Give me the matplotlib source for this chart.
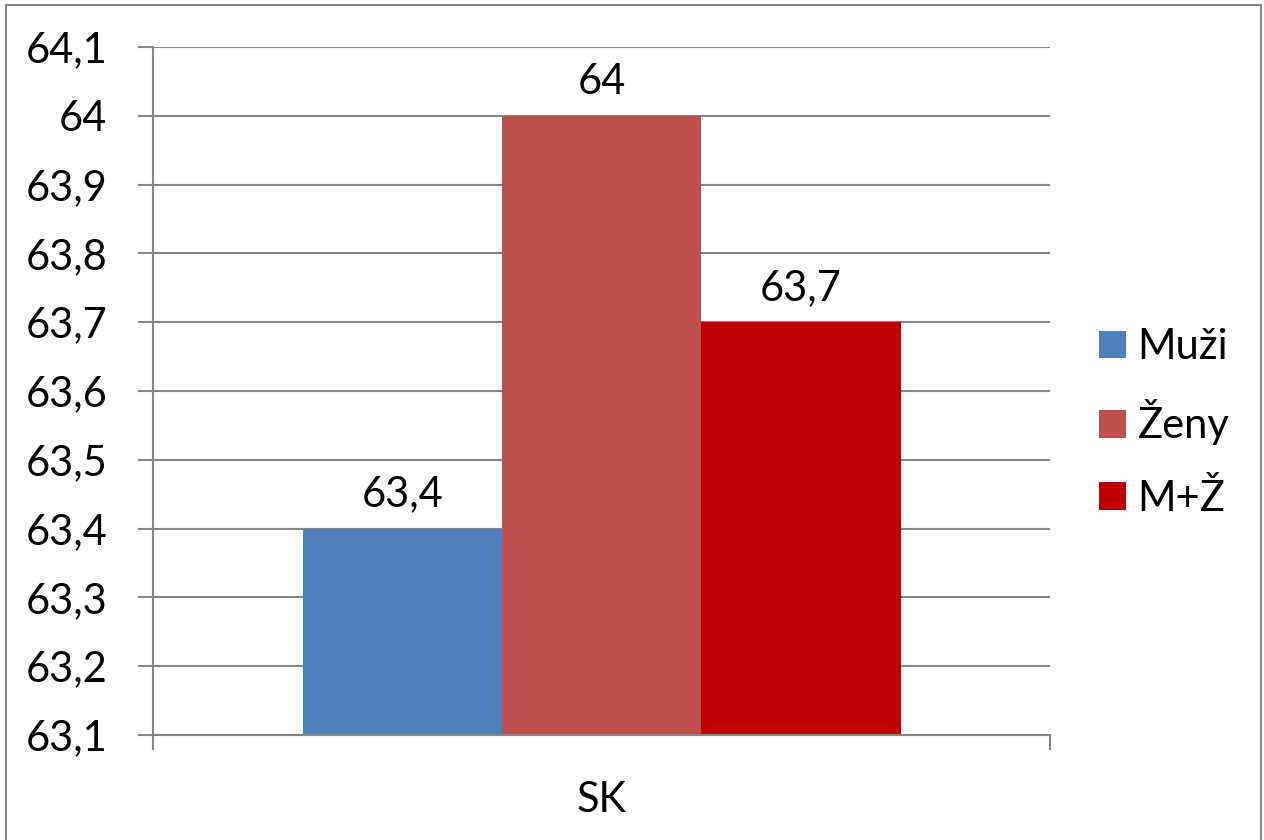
import matplotlib
matplotlib.use("Agg")
import matplotlib.pyplot as plt
from matplotlib.patches import Rectangle
from matplotlib.ticker import FuncFormatter

plt.rcParams['font.family'] = ['Lato', 'DejaVu Sans']

category = "SK"
series = ["Muži", "Ženy", "M+Ž"]
values = [63.4, 64.0, 63.7]
colors = ["#4F81BD", "#C0504D", "#C00000"]
yticks = [63.1, 63.2, 63.3, 63.4, 63.5, 63.6, 63.7, 63.8, 63.9, 64.0, 64.1]

def fmt(v):
    s = f"{v:.1f}".rstrip("0").rstrip(".")
    return s.replace(".", ",")

fig = plt.figure(figsize=(12.64, 8.4), dpi=100)
ax = fig.add_axes([153 / 1264, 105 / 840, 897 / 1264, 688 / 840])

grid_c = "#868686"
fs = 30
base = yticks[0]
offsets = [-1, 0, 1]
for off, name, v, c in zip(offsets, series, values, colors):
    ax.bar(off, v - base, bottom=base, width=1.0, color=c, label=name, zorder=3)
    ax.annotate(fmt(v), (off, v), xytext=(0, 11), textcoords="offset points",
                ha="center", va="bottom", fontsize=fs, zorder=4)

ax.set_xlim(-2.25, 2.25)
ax.set_ylim(yticks[0], yticks[-1])
ax.set_yticks(yticks)
ax.yaxis.set_major_formatter(FuncFormatter(lambda v, p: fmt(v)))
ax.yaxis.grid(True, color=grid_c, linewidth=1.5, zorder=0)
ax.set_axisbelow(True)

ax.set_xticks([-2.25, 2.25])
ax.set_xticklabels(["", ""])
ax.tick_params(axis="x", length=11, width=1.5, color=grid_c)
ax.tick_params(axis="y", length=11, width=1.5, color=grid_c, labelsize=fs, pad=22)
for lbl in ax.get_yticklabels():
    lbl.set_horizontalalignment("right")

ax.text(0, -0.095, category, transform=ax.get_xaxis_transform(),
        ha="center", va="center", fontsize=fs)

for side in ["top", "right"]:
    ax.spines[side].set_visible(False)
for side in ["left", "bottom"]:
    ax.spines[side].set_color(grid_c)
    ax.spines[side].set_linewidth(1.5)
    ax.spines[side].set_zorder(5)

leg = ax.legend(loc="center left", bbox_to_anchor=(1.036, 0.4535), frameon=False,
                fontsize=fs, handlelength=0.65, handleheight=0.65,
                handletextpad=0.28, labelspacing=0.8, borderaxespad=0)

# outer frame of the chart area
fig.patches.append(Rectangle((6 / 1264, -0.01), 1255 / 1264, 1 - 5 / 840 + 0.01,
                             transform=fig.transFigure, fill=False,
                             edgecolor="#868686", linewidth=1.5))

fig.savefig("out.png", dpi=100)
